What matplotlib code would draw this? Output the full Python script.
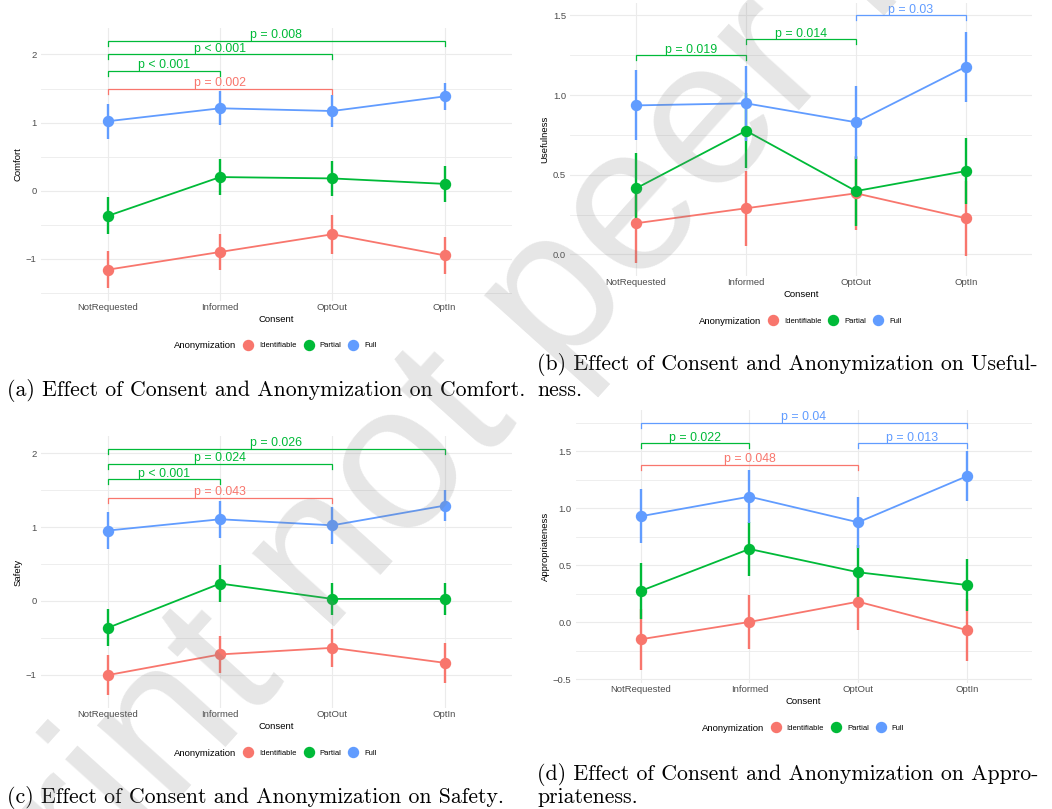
import matplotlib
matplotlib.use("Agg")
import matplotlib.pyplot as plt
from matplotlib.lines import Line2D

W, H = 1052, 809
plt.rcParams["font.family"] = ["Liberation Sans", "DejaVu Sans"]

consent = ["NotRequested", "Informed", "OptOut", "OptIn"]
anonymization = ["Identifiable", "Partial", "Full"]
palette = ["#F8766D", "#00BA38", "#619CFF"]

# rows: Identifiable, Partial, Full / columns: consent levels
comfort_mean = [[-1.16, -0.90, -0.64, -0.95],
                [-0.37, 0.20, 0.18, 0.10],
                [1.02, 1.21, 1.17, 1.385]]
comfort_err = [[0.27, 0.27, 0.29, 0.27],
               [0.27, 0.27, 0.26, 0.26],
               [0.26, 0.25, 0.23, 0.20]]
# (from, to, bracket height, label, colour index)
comfort_tests = [(0, 3, 2.20, "p = 0.008", 1),
                 (0, 2, 2.00, "p < 0.001", 1),
                 (0, 1, 1.76, "p < 0.001", 1),
                 (0, 2, 1.50, "p = 0.002", 0)]

usefulness_mean = [[0.195, 0.289, 0.383, 0.226],
                   [0.414, 0.776, 0.397, 0.523],
                   [0.935, 0.948, 0.829, 1.178]]
usefulness_err = [[0.25, 0.235, 0.23, 0.235],
                  [0.22, 0.235, 0.22, 0.205],
                  [0.22, 0.235, 0.23, 0.22]]
usefulness_tests = [(0, 1, 1.251, "p = 0.019", 1),
                    (1, 2, 1.35, "p = 0.014", 1),
                    (2, 3, 1.50, "p = 0.03", 2)]

safety_mean = [[-1.005, -0.725, -0.636, -0.839],
               [-0.365, 0.235, 0.027, 0.027],
               [0.953, 1.106, 1.024, 1.291]]
safety_err = [[0.27, 0.248, 0.257, 0.267],
              [0.249, 0.255, 0.22, 0.22],
              [0.248, 0.248, 0.248, 0.215]]
safety_tests = [(0, 3, 2.064, "p = 0.026", 1),
                (0, 2, 1.859, "p = 0.024", 1),
                (0, 1, 1.647, "p < 0.001", 1),
                (0, 2, 1.399, "p = 0.043", 0)]

approp_mean = [[-0.149, 0.003, 0.181, -0.068],
               [0.275, 0.643, 0.439, 0.327],
               [0.930, 1.102, 0.877, 1.281]]
approp_err = [[0.27, 0.24, 0.245, 0.27],
              [0.243, 0.234, 0.236, 0.227],
              [0.237, 0.23, 0.223, 0.22]]
approp_tests = [(0, 3, 1.751, "p = 0.04", 2),
                (0, 1, 1.570, "p = 0.022", 1),
                (2, 3, 1.570, "p = 0.013", 2),
                (0, 2, 1.380, "p = 0.048", 0)]

panels = [
    dict(ylabel="Comfort", mean=comfort_mean, err=comfort_err, tests=comfort_tests,
         box=(40.5, 28, 512, 300.6), ylim=(-1.614, 2.389),
         major=[-1, 0, 1, 2], minor=[-1.5, -0.5, 0.5, 1.5], fmt="%d", ylab_x=18,
         caption=["(a) Effect of Consent and Anonymization on Comfort."],
         cap_xy=(7, [396])),
    dict(ylabel="Usefulness", mean=usefulness_mean, err=usefulness_err, tests=usefulness_tests,
         box=(570, 3.3, 1032, 276.3), ylim=(-0.138, 1.576),
         major=[0, 0.5, 1.0, 1.5], minor=[0.25, 0.75, 1.25], fmt="%.1f", ylab_x=545,
         caption=["(b) Effect of Consent and Anonymization on Useful-", "ness."],
         cap_xy=(537, [370.5, 396])),
    dict(ylabel="Safety", mean=safety_mean, err=safety_err, tests=safety_tests,
         box=(40.5, 436, 512, 708.3), ylim=(-1.455, 2.234),
         major=[-1, 0, 1, 2], minor=[-0.5, 0.5, 1.5], fmt="%d", ylab_x=18,
         caption=["(c) Effect of Consent and Anonymization on Safety."],
         cap_xy=(7, [803])),
    dict(ylabel="Appropriateness", mean=approp_mean, err=approp_err, tests=approp_tests,
         box=(575.5, 410, 1032, 683.3), ylim=(-0.535, 1.862),
         major=[-0.5, 0, 0.5, 1.0, 1.5], minor=[-0.25, 0.25, 0.75, 1.25, 1.75], fmt="%.1f",
         ylab_x=545,
         caption=["(d) Effect of Consent and Anonymization on Appro-", "priateness."],
         cap_xy=(537, [780, 803])),
]

fig = plt.figure(figsize=(W / 100, H / 100), dpi=100)
fig.patch.set_facecolor("white")
xpos = [1, 2, 3, 4]
grid_col = "#EBEBEB"

for p in panels:
    x0, y0, x1, y1 = p["box"]
    ax = fig.add_axes([x0 / W, 1 - y1 / H, (x1 - x0) / W, (y1 - y0) / H])
    hpx = y1 - y0
    ax.set_xlim(0.4, 4.6)
    ax.set_ylim(*p["ylim"])
    for s in ax.spines.values():
        s.set_visible(False)
    ax.set_xticks(xpos)
    ax.set_xticklabels(consent)
    ax.set_yticks(p["major"])
    ax.set_yticklabels([(p["fmt"] % v).replace("-", "\u2212") for v in p["major"]])
    ax.set_yticks(p["minor"], minor=True)
    ax.tick_params(which="both", length=0, labelsize=6.8, labelcolor="#4D4D4D")
    ax.tick_params(axis="x", pad=1.5)
    ax.tick_params(axis="y", pad=2.9)
    ax.grid(which="major", color=grid_col, lw=0.8)
    ax.grid(which="minor", axis="y", color=grid_col, lw=0.6)
    ax.set_axisbelow(True)

    for g in range(3):
        m = p["mean"][g]
        e = p["err"][g]
        ax.vlines(xpos, [a - b for a, b in zip(m, e)], [a + b for a, b in zip(m, e)],
                  color=palette[g], lw=1.7, zorder=2)
        ax.plot(xpos, m, color=palette[g], lw=1.3, zorder=3)
        ax.plot(xpos, m, "o", color=palette[g], ms=7.2, zorder=4)

    yr = p["ylim"][1] - p["ylim"][0]
    tip = 5.0 / hpx * yr
    for i, j, y, lab, c in p["tests"]:
        xa, xb = xpos[i], xpos[j]
        ax.plot([xa, xa, xb, xb], [y - tip, y, y, y - tip], color=palette[c], lw=0.9,
                zorder=5, solid_joinstyle="miter")
        ax.annotate(lab, ((xa + xb) / 2, y), xytext=(0, 1.8), textcoords="offset points",
                    ha="center", va="baseline", fontsize=8.9, color=palette[c], zorder=6)

    ax.set_xlabel("Consent", fontsize=6.8, va="center")
    ax.xaxis.set_label_coords(0.5, -18.4 / hpx)
    ax.set_ylabel(p["ylabel"], fontsize=6.8, va="center")
    ax.yaxis.set_label_coords((p["ylab_x"] - x0) / (x1 - x0), 0.5)

    # legend row under the panel
    cx = (x0 + x1) / 2
    ly = 1 - (y1 + 45) / H
    fig.text((cx - 40) / W, ly, "Anonymization", ha="right", va="center", fontsize=6.8)
    handles = [Line2D([], [], ls="none", marker="o", ms=7.2, color=palette[g])
               for g in range(3)]
    fig.legend(handles, anonymization, loc="center left",
               bbox_to_anchor=((cx - 33.3) / W, ly), ncol=3, frameon=False,
               fontsize=5.5, handlelength=1.4, handletextpad=0.73, columnspacing=0.87,
               borderpad=0, borderaxespad=0)

    cxp, cys = p["cap_xy"]
    for line, cy in zip(p["caption"], cys):
        fig.text(cxp / W, 1 - cy / H, line, ha="left", va="baseline",
                 fontsize=15.7, family="cmr10")

# diagonal watermark
fig.text(576 / W, 1 - 278 / H, "Preprint not peer reviewed", rotation=48,
         rotation_mode="anchor", ha="center", va="center", fontsize=150,
         color="#808080", alpha=0.2, zorder=10)

fig.savefig("out.png", dpi=100)
